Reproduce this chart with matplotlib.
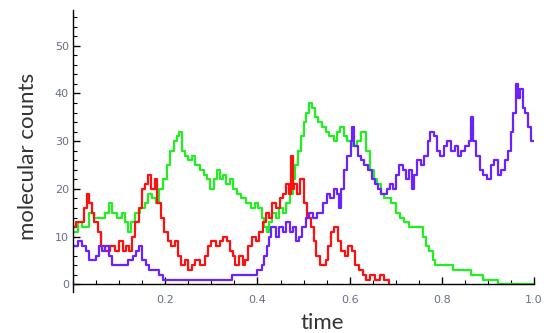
import numpy as np
import matplotlib
matplotlib.use("Agg")
from matplotlib import pyplot as plt
from matplotlib.ticker import MultipleLocator

# step-trajectories: switch times and counts
red_t = [0, .007, .024, .030, .035, .041, .046, .053, .060, .070,
         .080, .090, .100, .108, .115, .122, .128, .135, .142, .150,
         .157, .163, .170, .177, .183, .190, .197, .205, .212, .220,
         .228, .235, .242, .250, .257, .265, .275, .286, .292, .300,
         .310, .318, .326, .334, .340, .346, .352, .360, .368, .373,
         .380, .388, .396, .404, .412, .418, .425, .432, .440, .448,
         .455, .462, .468, .472, .476, .480, .486, .492, .500, .508,
         .515, .522, .528, .535, .548, .553, .560, .567, .575, .582,
         .590, .597, .605, .612, .620, .628, .636, .645, .655, .665,
         .675, .685]
red_n = [12, 13, 16, 19, 17, 15, 13, 11, 8, 7,
         8, 7, 9, 7, 8, 7, 10, 13, 16, 20,
         21, 23, 20, 22, 17, 14, 11, 9, 8, 9,
         6, 4, 5, 3, 4, 5, 4, 6, 8, 9,
         8, 9, 10, 9, 7, 6, 4, 6, 4, 5,
         8, 10, 9, 11, 13, 15, 14, 17, 16, 18,
         19, 21, 19, 27, 20, 21, 19, 22, 17, 14,
         12, 9, 6, 4, 5, 8, 11, 12, 9, 7,
         6, 8, 7, 4, 3, 2, 1, 2, 1, 2,
         1, 0]

green_t = [0, .010, .020, .035, .045, .060, .070, .078, .085, .095,
           .105, .112, .118, .126, .135, .145, .155, .163, .172, .180,
           .187, .195, .203, .210, .218, .225, .230, .236, .243, .250,
           .258, .265, .275, .283, .290, .298, .305, .312, .318, .325,
           .332, .340, .347, .355, .365, .375, .385, .395, .402, .410,
           .415, .420, .425, .432, .440, .447, .455, .462, .470, .476,
           .482, .488, .494, .500, .506, .512, .518, .525, .532, .540,
           .548, .556, .565, .572, .580, .587, .595, .605, .615, .625,
           .635, .645, .652, .660, .667, .675, .690, .700, .710, .718,
           .728, .758, .765, .772, .780, .786, .824, .863, .889, .921,
           1.0]
green_n = [11, 13, 12, 15, 14, 14, 15, 17, 15, 14,
           15, 13, 11, 13, 15, 16, 17, 19, 18, 17,
           20, 22, 25, 28, 30, 31, 32, 28, 27, 26,
           27, 25, 24, 23, 22, 20, 22, 24, 22, 23,
           21, 22, 20, 19, 18, 17, 16, 17, 16, 14,
           12, 11, 13, 15, 14, 16, 15, 17, 19, 22,
           25, 28, 31, 34, 36, 38, 37, 35, 34, 33,
           32, 31, 30, 32, 33, 31, 30, 29, 30, 32,
           28, 24, 22, 21, 19, 18, 17, 15, 14, 13,
           12, 10, 8, 7, 5, 4, 3, 2, 1, 0,
           0]

purple_t = [0, .010, .020, .028, .035, .050, .057, .063, .070, .078,
            .085, .105, .118, .130, .137, .143, .150, .158, .165, .178,
            .187, .195, .335, .345, .394, .400, .410, .415, .420, .425,
            .430, .440, .447, .455, .462, .470, .478, .484, .490, .497,
            .505, .512, .520, .530, .543, .550, .557, .565, .572, .576,
            .582, .588, .595, .602, .606, .610, .618, .625, .632, .640,
            .648, .655, .662, .668, .680, .688, .695, .700, .708, .716,
            .722, .728, .735, .740, .747, .755, .762, .769, .775, .782,
            .790, .797, .805, .812, .820, .828, .835, .842, .850, .858,
            .864, .868, .875, .882, .890, .898, .906, .914, .921, .929,
            .937, .944, .950, .955, .960, .965, .970, .975, .980, .987,
            .993, 1.0]
purple_n = [8, 9, 8, 7, 5, 6, 8, 7, 8, 6,
            4, 4, 5, 6, 7, 8, 5, 4, 3, 3,
            2, 1, 1, 2, 2, 3, 4, 6, 8, 10,
            12, 10, 12, 11, 13, 11, 12, 9, 10, 12,
            14, 15, 14, 15, 17, 19, 18, 20, 19, 16,
            20, 24, 27, 30, 33, 29, 27, 26, 25, 24,
            22, 21, 20, 19, 20, 21, 20, 23, 25, 24,
            22, 24, 20, 23, 26, 25, 27, 30, 32, 31,
            28, 27, 29, 30, 28, 29, 27, 28, 29, 30,
            35, 30, 27, 24, 23, 22, 25, 26, 23, 24,
            26, 28, 32, 36, 42, 39, 41, 37, 36, 33,
            30, 30]

fig = plt.figure(figsize=(5.54, 3.33), dpi=100)
ax = fig.add_axes([0.132, 0.1246, 0.832, 0.8454])

ax.step(green_t, green_n, where="post", color="#22ee22", lw=1.6)
ax.step(red_t, red_n, where="post", color="#ff1010", lw=1.6)
ax.step(purple_t, purple_n, where="post", color="#6a22ff", lw=1.6)

ax.set_xlim(0, 1.0)
ax.set_ylim(-1.5, 57.5)
ax.spines["top"].set_visible(False)
ax.spines["right"].set_visible(False)
ax.spines["bottom"].set_position(("data", 0))
ax.spines["left"].set_linewidth(1.0)
ax.spines["bottom"].set_linewidth(1.0)

ax.xaxis.set_major_locator(MultipleLocator(0.2))
ax.xaxis.set_minor_locator(MultipleLocator(0.05))
ax.yaxis.set_major_locator(MultipleLocator(10))
ax.yaxis.set_minor_locator(MultipleLocator(2))
ax.set_xticks([0.2, 0.4, 0.6, 0.8, 1.0])
ax.set_xticklabels(["0.2", "0.4", "0.6", "0.8", "1.0"])
ax.tick_params(which="major", direction="in", length=5, width=1.0,
               labelsize=8, labelcolor="#667085", pad=8)
ax.tick_params(which="minor", direction="in", length=3, width=0.8)
ax.tick_params(axis="y", which="major", pad=3)

ax.set_ylabel("molecular counts", fontsize=16, color="#333333", family="Lato")
ax.yaxis.set_label_coords(-0.076, 0.48)
ax.set_xlabel("time", fontsize=16, color="#333333", family="Lato")
ax.xaxis.set_label_coords(0.54, -0.075)

fig.savefig("out.png", dpi=100)
